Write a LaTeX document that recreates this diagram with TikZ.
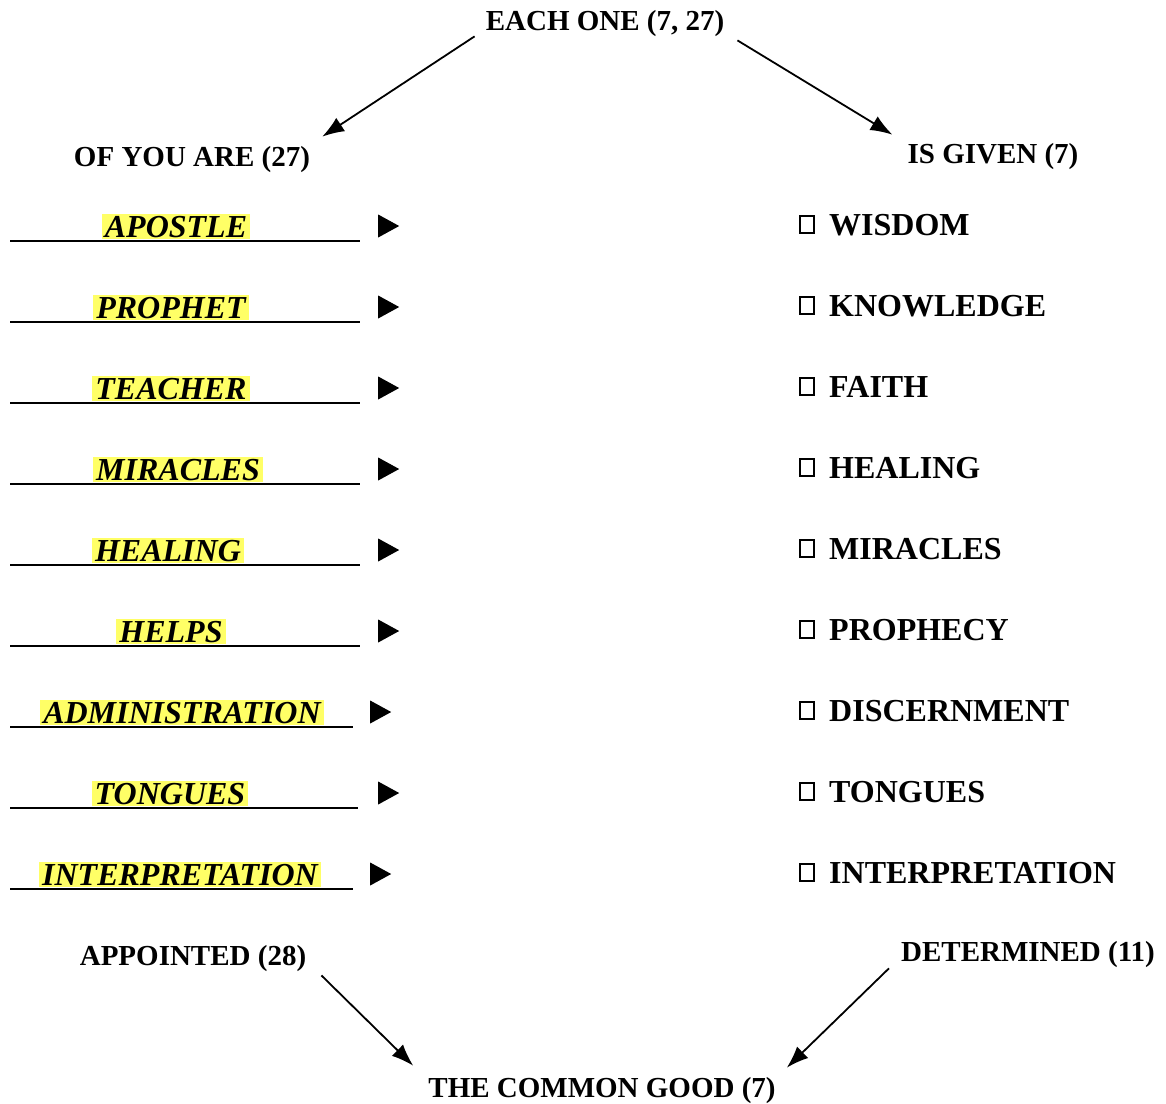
\documentclass[tikz,border=0pt]{standalone}
\usepackage{fontspec}
\setmainfont{Liberation Serif}
\usetikzlibrary{arrows.meta,shapes.geometric}
\definecolor{hlColor}{HTML}{FFFF66}
\tikzset{head label/.style={inner sep=0pt, anchor=base, font=\fontsize{29}{34}\selectfont\bfseries}}
\tikzset{
	office label/.style={fill=hlColor, inner xsep=3pt, inner ysep=2pt, anchor=base,
		font=\fontsize{32}{38}\selectfont\bfseries\itshape},
	gift label/.style={inner sep=0pt, anchor=base west, font=\fontsize{32}{38}\selectfont\bfseries},
	tick box/.style={draw, line width=1.1pt, minimum width=14pt, minimum height=17pt, inner sep=0pt},
	pointer/.style={isosceles triangle, isosceles triangle stretches, fill=black, draw=none,
		inner sep=0pt, minimum height=21pt, minimum width=23pt},
	underline/.style={line width=2.2pt},
	flow/.style={-{Latex[length=22pt,width=16pt]}, line width=1.8pt}
}

\begin{document}
\begin{tikzpicture}[x=1pt,y=-1pt]
	\useasboundingbox (0,0) rectangle (1166,1103);
	\node[head label] (eachone) at (605,30) {EACH ONE (7, 27)};
	\node[head label] (ofyou) at (192,166) {OF YOU ARE (27)};
	\node[head label] (isgiven) at (993,163) {IS GIVEN (7)};
	\node[head label] (appointed) at (193,965) {APPOINTED (28)};
	\node[head label] (determined) at (1028,961) {DETERMINED (11)};
	\node[head label] (commongood) at (602,1097) {THE COMMON GOOD (7)};
	% left column: offices
	\foreach \i/\office/\cx/\ux/\tx in {1/APOSTLE/176/360/385, 2/PROPHET/171/360/385,
		3/TEACHER/171/360/385, 4/MIRACLES/178/360/385, 5/HEALING/168/360/385,
		6/HELPS/171/360/385, 7/ADMINISTRATION/182/353/377, 8/TONGUES/170/358/385,
		9/INTERPRETATION/180/353/377} {
		\pgfmathsetmacro{\by}{237+81*(\i-1)}
		\node[office label] (off\i) at (\cx,\by) {\office};
		\draw[underline] (10,\by+4) -- (\ux,\by+4);
		\node[pointer] (ptr\i) at (\tx,\by-11) {};
	}
	% right column: gifts
	\foreach \i/\gift in {1/WISDOM, 2/KNOWLEDGE, 3/FAITH, 4/HEALING, 5/MIRACLES,
		6/PROPHECY, 7/DISCERNMENT, 8/TONGUES, 9/INTERPRETATION} {
		\pgfmathsetmacro{\by}{235+81*(\i-1)}
		\node[tick box] (box\i) at (807,\by-10.5) {};
		\node[gift label] (gift\i) at (829,\by) {\gift};
	}
	\path ([xshift=-11pt]eachone.south west) edge[flow] ([xshift=12pt,yshift=9pt]ofyou.north east);
	\path ([xshift=13pt,yshift=-4pt]eachone.south east) edge[flow] ([xshift=-15pt,yshift=8pt]isgiven.north west);
	\path ([xshift=15pt,yshift=-4pt]appointed.south east) edge[flow] ([xshift=-15pt,yshift=11pt]commongood.north west);
	\path ([xshift=-12pt,yshift=-1pt]determined.south west) edge[flow] ([xshift=11pt,yshift=9pt]commongood.north east);
\end{tikzpicture}
\end{document}
